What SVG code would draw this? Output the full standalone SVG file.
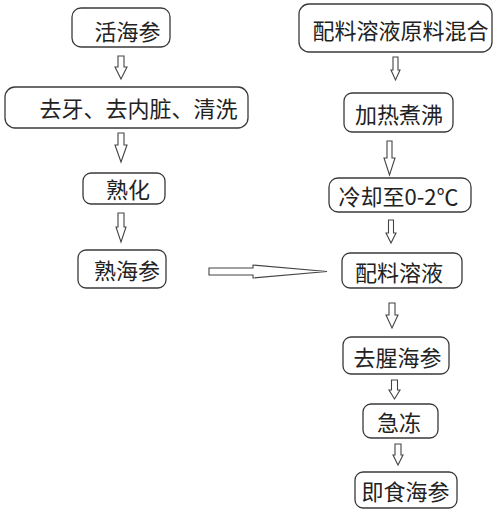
<svg xmlns="http://www.w3.org/2000/svg" width="500" height="514" viewBox="0 0 500 514">
<style>
.box{fill:#fff;stroke:#3a3a3a;stroke-width:1.3}
.t{font-family:"Noto Sans CJK SC","Noto Sans",sans-serif;font-size:22px;fill:#222;text-anchor:middle;dominant-baseline:central}
.ar{fill:#fff;stroke:#444;stroke-width:1.1;stroke-linejoin:miter}
</style>
<rect width="500" height="514" fill="#fff"/>
<g id="connectors">
<path class="ar" d="M118,56 H124 V67 H127 L121,79 L115,67 H118 Z"/>
<path class="ar" d="M118,133 H124 V145 H127 L121,162 L115,145 H118 Z"/>
<path class="ar" d="M118,213 H124 V227 H126 L121,242 L116,227 H118 Z"/>
<path class="ar" d="M393,57 H398 V70 H400 L395.5,80 L391,70 H393 Z"/>
<path class="ar" d="M387,141 H392 V158 H395 L389.5,175 L384,158 H387 Z"/>
<path class="ar" d="M388.5,220 H393.5 V233 H396 L391,243 L386,233 H388.5 Z"/>
<path class="ar" d="M389,303 H395 V315 H398 L392,328 L386,315 H389 Z"/>
<path class="ar" d="M391.5,380 H397.5 V390 H400 L394.5,399 L389,390 H391.5 Z"/>
<path class="ar" d="M395,444 H401 V455 H403 L398,465 L393,455 H395 Z"/>
<path class="ar" d="M209,268 H253 V265 L327,271.5 L253,278 V275 H209 Z"/>
</g>
<g id="n1"><rect class="box" x="72" y="8" width="98" height="39" rx="9"/><text class="t" x="127.5" y="30">活海参</text></g>
<g id="n2"><rect class="box" x="5" y="87" width="243" height="41" rx="10"/><text class="t" x="138.5" y="107">去牙、去内脏、清洗</text></g>
<g id="n3"><rect class="box" x="83" y="173" width="82" height="31" rx="8"/><text class="t" x="128" y="188">熟化</text></g>
<g id="n4"><rect class="box" x="78" y="250" width="88" height="38" rx="8"/><text class="t" x="127" y="269">熟海参</text></g>
<g id="n5"><rect class="box" x="299" y="4" width="193" height="48" rx="10"/><text class="t" x="400.5" y="29">配料溶液原料混合</text></g>
<g id="n6"><rect class="box" x="344" y="93" width="109" height="39" rx="8"/><text class="t" x="399" y="113">加热煮沸</text></g>
<g id="n7"><rect class="box" x="329" y="178" width="142" height="34" rx="9"/><text class="t" x="398.5" y="195">冷却至0-2℃</text></g>
<g id="n8"><rect class="box" x="342" y="253" width="120" height="35" rx="8"/><text class="t" x="399" y="271">配料溶液</text></g>
<g id="n9"><rect class="box" x="343" y="337" width="106" height="37" rx="8"/><text class="t" x="397.5" y="356">去腥海参</text></g>
<g id="n10"><rect class="box" x="363" y="404" width="75" height="34" rx="8"/><text class="t" x="399" y="421">急冻</text></g>
<g id="n11"><rect class="box" x="355" y="472" width="102" height="36" rx="8"/><text class="t" x="405.5" y="490">即食海参</text></g>
</svg>
